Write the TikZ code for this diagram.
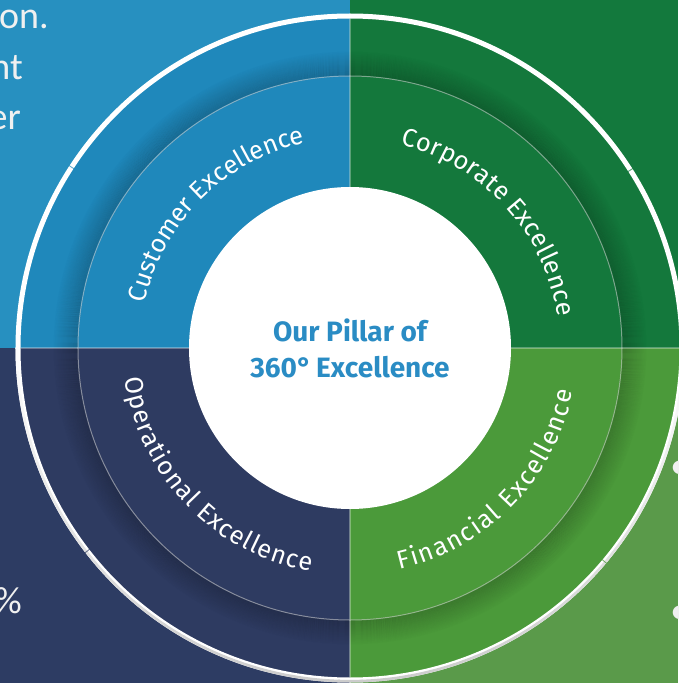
\documentclass[tikz,border=0pt]{standalone}
\usepackage{fontspec}
\usetikzlibrary{decorations.text}
\newfontfamily\labelfont{Fira Sans}
\newfontfamily\pillarfont{Fira Sans}
\newfontfamily\slidefont{Carlito}
% quadrant colours: page background and wheel face
\definecolor{tlout}{HTML}{2790C0}
\definecolor{trout}{HTML}{13793D}
\definecolor{blout}{HTML}{2D3C63}
\definecolor{brout}{HTML}{5A9A4A}
\definecolor{tlin}{HTML}{1F88BB}
\definecolor{trin}{HTML}{14783C}
\definecolor{blin}{HTML}{2E3B61}
\definecolor{brin}{HTML}{4B9A3A}
\definecolor{pillarblue}{HTML}{2A8CC4}

\begin{document}
\begin{tikzpicture}[x=1pt,y=1pt,
  ringtext/.style={decorate, decoration={text along path, text align={fit to path},
      text={|\labelfont\fontsize{25.5}{30}\selectfont\color{white}|#1}}},
  slidetext/.style={inner sep=0pt, text=white!94!black,
      font=\slidefont\fontsize{38}{46}\selectfont},
  ringgap/.style={line width=0.9pt, opacity=0.7},
]
\useasboundingbox (-350,-335) rectangle (328,348);

% page background in four quadrants
\fill[tlout] (-350,0) rectangle (0,348);
\fill[trout] (0,0) rectangle (328,348);
\fill[blout] (-350,-335) rectangle (0,0);
\fill[brout] (0,-335) rectangle (328,0);

% text of the slide, running off the edges
\node[slidetext, anchor=base west] (t1) at (-351,319) {on.};
\node[slidetext, anchor=base east] (t2) at (-327,268) {nt};
\node[slidetext, anchor=base east] (t3) at (-329,218) {er};
\node[slidetext, anchor=base east] (t4) at (-328,-265) {\%};
\node[slidetext, anchor=base west] (b1) at (320,-130) {•};
\node[slidetext, anchor=base west] (b2) at (320,-275) {•};

% wheel face
\fill[tlin] (0,0) -- (180:332) arc[start angle=180, end angle=90, radius=332] -- cycle;
\fill[trin] (0,0) -- (90:332) arc[start angle=90, end angle=0, radius=332] -- cycle;
\fill[blin] (0,0) -- (180:332) arc[start angle=180, end angle=270, radius=332] -- cycle;
\fill[brin] (0,0) -- (270:332) arc[start angle=270, end angle=360, radius=332] -- cycle;

% soft shadow just outside the inner ring
\foreach \i in {0,...,24}{
  \pgfmathsetmacro\op{0.007*(25-\i)}
  \draw[black, draw opacity=\op, line width=1.1pt] (0,0) circle[radius=272+\i];
}

% quadrant dividers and inner ring line
\draw[white, opacity=0.3, line width=1.2pt] (-330,0) -- (330,0);
\draw[white, opacity=0.3, line width=1.2pt] (0,-330) -- (0,330);
\draw[white, opacity=0.45, line width=1pt] (0,0) circle[radius=272];

% white hub
\fill[white] (0,0) circle[radius=161];
\node[align=center, text=pillarblue, inner sep=0pt,
      font=\pillarfont\bfseries\fontsize{28}{36}\selectfont] (pillar) at (0,0)
      {Our Pillar of\\360°\kern-2pt{} Excellence};

% outer rim, greying towards the bottom
\draw[white, line width=5pt] (0,0) circle[radius=332];
\foreach \a in {180,184,...,356}{
  \pgfmathsetmacro\p{100-20*max(0,-sin(\a+2))}
  \draw[draw={white!\p!black}, line width=2.6pt]
    (\a:333.2) arc[start angle=\a, end angle=\a+4.2, radius=333.2];
}
% small joints in the rim
\draw[ringgap, tlin] (147:329) -- (147:335);
\draw[ringgap, trin] (32.4:329) -- (32.4:335);
\draw[ringgap, blin] (217.7:329) -- (217.7:335);
\draw[ringgap, brin] (-40:329) -- (-40:335);

% curved pillar names
\path[ringtext={Customer Excellence}]
  (167.7:210) arc[start angle=167.7, end angle=102.3, radius=210];
\path[ringtext={Corporate Excellence}]
  (76:210) arc[start angle=76, end angle=8.5, radius=210];
\path[ringtext={Operational Excellence}]
  (187.7:227) arc[start angle=187.7, end angle=260, radius=227];
\path[ringtext={Financial Excellence}]
  (282.7:227) arc[start angle=282.7, end angle=349, radius=227];
\end{tikzpicture}
\end{document}
